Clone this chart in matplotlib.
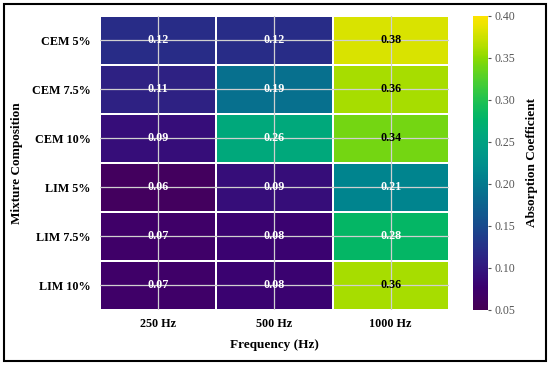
import numpy as np
import matplotlib.pyplot as plt
from matplotlib.patches import Rectangle
from matplotlib.colors import ListedColormap, rgb_to_hsv, hsv_to_rgb

# data
mixtures = ["CEM 5%", "CEM 7.5%", "CEM 10%", "LIM 5%", "LIM 7.5%", "LIM 10%"]
frequencies = ["250 Hz", "500 Hz", "1000 Hz"]
absorption = [
    [0.12, 0.12, 0.38],
    [0.11, 0.19, 0.36],
    [0.09, 0.26, 0.34],
    [0.06, 0.09, 0.21],
    [0.07, 0.08, 0.28],
    [0.07, 0.08, 0.36],
]
cbar_ticks = [0.05, 0.10, 0.15, 0.20, 0.25, 0.30, 0.35, 0.40]

plt.rcParams['font.family'] = ['Liberation Serif', 'DejaVu Serif']

# viridis, a bit more saturated like the reference image
base = plt.get_cmap('viridis')(np.linspace(0, 1, 256))[:, :3]
hsv = rgb_to_hsv(base)
hsv[:, 1] = np.clip(hsv[:, 1] * 1.35, 0, 1)
cmap = ListedColormap(hsv_to_rgb(hsv))

vals = np.array(absorption)
fig = plt.figure(figsize=(5.5, 3.65), dpi=100)
ax = fig.add_axes([0.182, 0.151, 0.634, 0.806])
cax = fig.add_axes([0.860, 0.151, 0.027, 0.806])

mesh = ax.pcolormesh(vals, cmap=cmap, vmin=0.05, vmax=0.40,
                     edgecolor='white', linewidth=1.2)
ax.set_xlim(0, len(frequencies))
ax.set_ylim(len(mixtures), 0)

ax.set_xticks(np.arange(len(frequencies)) + 0.5)
ax.set_xticklabels(frequencies, fontsize=8.7, fontweight='bold')
ax.set_yticks(np.arange(len(mixtures)) + 0.5)
ax.set_yticklabels(mixtures, fontsize=8.7, fontweight='bold')
ax.tick_params(axis='x', length=0, pad=6)
ax.tick_params(axis='y', length=0, pad=7)
ax.grid(True, color='#d0d0d0', linewidth=0.9, zorder=3)
ax.set_axisbelow(False)
for s in ax.spines.values():
    s.set_visible(False)

for i in range(len(mixtures)):
    for j in range(len(frequencies)):
        v = vals[i, j]
        col = 'black' if v >= 0.33 else 'white'
        ax.text(j + 0.5, i + 0.5, f"{v:.2f}", ha='center', va='center',
                fontsize=8.7, fontweight='bold', color=col, zorder=4)

ax.set_xlabel("Frequency (Hz)", fontsize=9.5, fontweight='bold')
ax.xaxis.set_label_coords(0.5, -0.099)
ax.set_ylabel("Mixture Composition", fontsize=9.5, fontweight='bold')
ax.yaxis.set_label_coords(-0.222, 0.5)

cb = fig.colorbar(mesh, cax=cax, ticks=cbar_ticks)
cb.outline.set_visible(False)
cb.ax.tick_params(labelsize=8.5, labelcolor='#555555', color='#555555',
                  length=2.5, width=0.8, pad=2)
cb.ax.set_yticklabels([f"{t:.2f}" for t in cbar_ticks])
cb.set_label("Absorption Coefficient", fontsize=9.5, fontweight='bold', labelpad=8)

# black frame around the whole picture
fig.patches.append(Rectangle((0.008, 0.01), 0.984, 0.98, transform=fig.transFigure,
                             fill=False, edgecolor='black', linewidth=1.5))

fig.savefig("out.png", dpi=100)
